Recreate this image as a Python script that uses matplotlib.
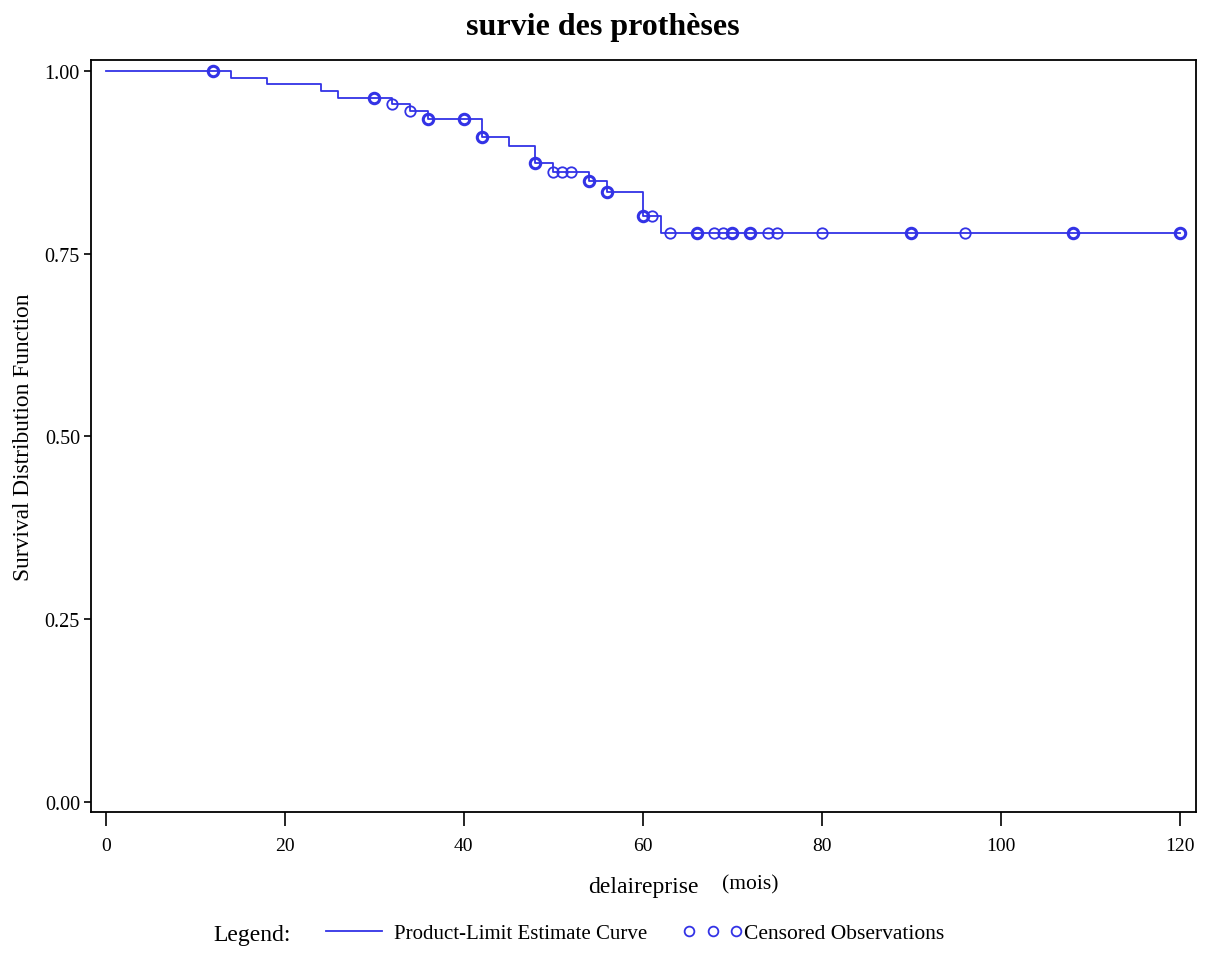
import numpy as np
import matplotlib
matplotlib.use('Agg')
import matplotlib.pyplot as plt
from matplotlib.lines import Line2D

# Kaplan-Meier steps (time in months, survival after the step)
step_times = [0, 14, 18, 24, 26, 32, 34, 36, 42, 45, 48, 50, 54, 56, 60, 62]
survival = [1.000, 0.991, 0.982, 0.972, 0.963, 0.955, 0.945, 0.935,
            0.910, 0.898, 0.874, 0.862, 0.849, 0.834, 0.801, 0.778]
end_time = 120

# censored observations (time, number of subjects censored at that time)
censor_times = [12, 30, 32, 34, 36, 40, 42, 48, 50, 51, 52, 54, 56, 60, 61,
                63, 66, 68, 69, 70, 72, 74, 75, 80, 90, 96, 108, 120]
censor_counts = [2, 2, 1, 1, 2, 2, 2, 2, 1, 1, 1, 2, 2, 2, 1,
                 1, 2, 1, 1, 2, 2, 1, 1, 1, 2, 1, 2, 2]

x_ticks = [0, 20, 40, 60, 80, 100, 120]
y_ticks = [0.00, 0.25, 0.50, 0.75, 1.00]

BLUE = '#3333e6'

plt.rcParams['font.family'] = ['Liberation Serif', 'DejaVu Serif']

fig = plt.figure(figsize=(12.06, 9.54), dpi=100)
ax = fig.add_axes([0.0755, 0.1475, 0.916, 0.7885])

# survival curve
xs = list(step_times) + [end_time]
ys = list(survival) + [survival[-1]]
ax.step(xs, ys, where='post', color=BLUE, lw=1.3)

# censored marks sit on the curve
idx = np.searchsorted(step_times, censor_times, side='right') - 1
cy = np.array(survival)[idx]
for t, y, n in zip(censor_times, cy, censor_counts):
    ax.plot([t], [y], 'o', mfc='none', mec=BLUE, ms=7.5,
            mew=1.3 if n == 1 else 2.2)

ax.set_xlim(-1.64, 121.76)
ax.set_ylim(-0.0145, 1.015)
ax.set_xticks(x_ticks)
ax.set_xticklabels([str(v) for v in x_ticks])
ax.set_yticks(y_ticks)
ax.set_yticklabels(['%.2f' % v for v in y_ticks])
ax.tick_params(axis='x', length=10, width=1.2, labelsize=14, pad=8)
ax.tick_params(axis='y', length=5, width=1.2, labelsize=14.5, pad=3)
for s in ax.spines.values():
    s.set_linewidth(1.3)

ax.set_ylabel('Survival Distribution Function', fontsize=16.8, labelpad=8)

fig.text(0.5, 1 - 28 / 954, 'survie des prothèses', ha='center', va='center',
         fontsize=23, fontweight='bold')
fig.text(588 / 1206, 1 - 888 / 954, 'delaireprise', ha='left', va='center',
         fontsize=17)
fig.text(722 / 1206, 1 - 885 / 954, '(mois)', ha='left', va='center',
         fontsize=15.5)

# legend row
fig.text(213 / 1206, 1 - 936 / 954, 'Legend:', ha='left', va='center',
         fontsize=17)
leg_y = 1 - 934 / 954
curve_handle = Line2D([], [], color=BLUE, lw=1.3)
censor_handle = Line2D([], [], ls='none', marker='o', mfc='none', mec=BLUE,
                       ms=7, mew=1.3)
fig.legend([curve_handle], ['Product-Limit Estimate Curve'],
           loc='center left', bbox_to_anchor=(326 / 1206, leg_y),
           frameon=False, fontsize=15, handlelength=2.7,
           handletextpad=0.58, borderpad=0, borderaxespad=0)
fig.legend([censor_handle], ['Censored Observations'],
           loc='center left', bbox_to_anchor=(683 / 1206, leg_y),
           frameon=False, fontsize=15.5, numpoints=3, handlelength=2.75,
           handletextpad=0.1, borderpad=0, borderaxespad=0)

fig.savefig('out.png', dpi=100)
